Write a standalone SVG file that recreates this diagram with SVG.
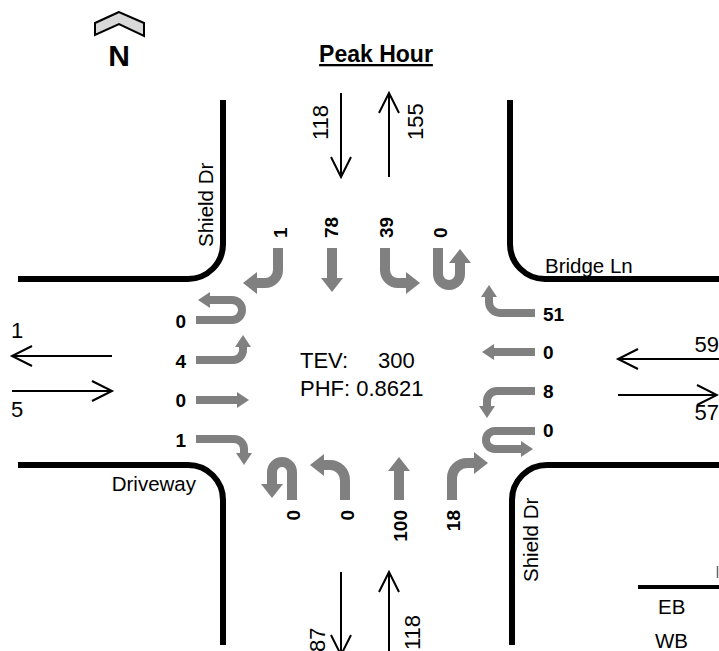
<svg xmlns="http://www.w3.org/2000/svg" width="719" height="651" viewBox="0 0 719 651">
<style>
text{font-family:"Liberation Sans",Arial,sans-serif;fill:#000}
.curb{fill:none;stroke:#000;stroke-width:6}
.flow{fill:none;stroke:#000;stroke-width:2}
.big{fill:none;stroke:#808080;stroke-width:10;marker-end:url(#hv)}
.small{fill:none;stroke:#808080;stroke-width:8;marker-end:url(#hh)}
.vol{font-size:19px;font-weight:bold}
.num{font-size:22px}
.street{font-size:20.5px}
</style>
<defs>
<marker id="hv" markerUnits="userSpaceOnUse" markerWidth="14" markerHeight="22" refX="0" refY="11" orient="auto" viewBox="0 0 14 22"><path d="M0,0 L14,11 L0,22 Z" fill="#808080"/></marker>
<marker id="hh" markerUnits="userSpaceOnUse" markerWidth="12" markerHeight="16" refX="0" refY="8" orient="auto" viewBox="0 0 12 16"><path d="M0,0 L12,8 L0,16 Z" fill="#808080"/></marker>
</defs>
<rect width="719" height="651" fill="#fff"/>

<g id="north">
<polygon points="119,12 95,23 95,35 119,24 144,36 144,23" fill="#d9d9d9" stroke="#000" stroke-width="2" stroke-linejoin="miter"/>
<text x="119" y="66" text-anchor="middle" style="font-size:30px;font-weight:bold">N</text>
</g>
<g id="title"><text x="376" y="62" text-anchor="middle" text-decoration="underline" style="font-size:23px;font-weight:bold">Peak Hour</text></g>

<g id="roads">
<path class="curb" d="M18,279 H188 A35,35 0 0 0 223,244 V100"/>
<path class="curb" d="M510,100 V244 A35,35 0 0 0 545,279 H719"/>
<path class="curb" d="M18,465 H188 A35,35 0 0 1 223,500 V645"/>
<path class="curb" d="M719,465 H547 A35,35 0 0 0 512,500 V645"/>
<path d="M638,587 H719" stroke="#000" stroke-width="4"/>
<path d="M717.5,566 V578" stroke="#666" stroke-width="1.5"/>
</g>

<g id="street-names">
<text class="street" transform="translate(213,247) rotate(-90)">Shield Dr</text>
<text class="street" x="545" y="273">Bridge Ln</text>
<text class="street" x="196" y="491" text-anchor="end">Driveway</text>
<text class="street" transform="translate(538,582) rotate(-90)">Shield Dr</text>
<text class="street" x="658" y="614">EB</text>
<text class="street" x="655" y="648">WB</text>
</g>

<g id="connectors">
<path class="flow" d="M341,93 V177 M331,157 L341,177 L351,157"/>
<path class="flow" d="M389,177 V93 M379,113 L389,93 L399,113"/>
<path class="flow" d="M341,572 V655 M331,635 L341,655 L351,635"/>
<path class="flow" d="M389,651 V572 M379,592 L389,572 L399,592"/>
<path class="flow" d="M112,356 H12 M32,346 L12,356 L32,366"/>
<path class="flow" d="M12,391 H112 M92,381 L112,391 L92,401"/>
<path class="flow" d="M719,359 H618 M638,349 L618,359 L638,369"/>
<path class="flow" d="M618,395 H717 M697,385 L717,395 L697,405"/>
<path class="big" d="M278,248 V270 A13,13 0 0 1 265,283 H257"/>
<path class="big" d="M332,248 V278"/>
<path class="big" d="M385,248 V270 A13,13 0 0 0 398,283 H406"/>
<path class="big" d="M438,248 V274 A11,11 0 0 0 460,274 V263"/>
<path class="big" d="M292,500 V472 A10,10 0 0 0 272,472 V484"/>
<path class="big" d="M345,500 V480 A15,15 0 0 0 330,465 H324"/>
<path class="big" d="M399,500 V471"/>
<path class="big" d="M452,500 V478 A15,15 0 0 1 467,463 H474"/>
<path class="small" d="M196,320 H232 A10,10 0 0 0 232,300 H210"/>
<path class="small" d="M196,360 H233 A10,10 0 0 0 243,350 V347"/>
<path class="small" d="M196,400 H237"/>
<path class="small" d="M196,439 H234 A10,10 0 0 1 244,449 V453"/>
<path class="small" d="M535,313 H500 A11,11 0 0 1 489,302 V297"/>
<path class="small" d="M535,352 H494"/>
<path class="small" d="M535,391 H497 A10,10 0 0 0 487,401 V406"/>
<path class="small" d="M535,431 H495 A9,9 0 0 0 495,449 H521"/>
</g>

<g id="flow-labels">
<text class="num" transform="translate(328,140) rotate(-90)">118</text>
<text class="num" transform="translate(423,140) rotate(-90)">155</text>
<text class="num" transform="translate(325,652) rotate(-90)">87</text>
<text class="num" transform="translate(420,650) rotate(-90)">118</text>
<text class="num" x="11" y="338">1</text>
<text class="num" x="11" y="417">5</text>
<text class="num" x="719" y="352" text-anchor="end">59</text>
<text class="num" x="719" y="420" text-anchor="end">57</text>
</g>

<g id="volumes">
<text class="vol" transform="translate(287,238) rotate(-90)">1</text>
<text class="vol" transform="translate(338,238) rotate(-90)">78</text>
<text class="vol" transform="translate(393,238) rotate(-90)">39</text>
<text class="vol" transform="translate(447,238) rotate(-90)">0</text>
<text class="vol" transform="translate(300,510) rotate(-90)" text-anchor="end">0</text>
<text class="vol" transform="translate(354,510) rotate(-90)" text-anchor="end">0</text>
<text class="vol" transform="translate(407,510) rotate(-90)" text-anchor="end">100</text>
<text class="vol" transform="translate(460,510) rotate(-90)" text-anchor="end">18</text>
<text class="vol" x="186" y="328" text-anchor="end">0</text>
<text class="vol" x="186" y="368" text-anchor="end">4</text>
<text class="vol" x="186" y="407" text-anchor="end">0</text>
<text class="vol" x="186" y="447" text-anchor="end">1</text>
<text class="vol" x="543" y="321">51</text>
<text class="vol" x="543" y="359">0</text>
<text class="vol" x="543" y="398">8</text>
<text class="vol" x="543" y="437">0</text>
</g>

<g id="totals">
<text x="300" y="368" style="font-size:22px">TEV:</text>
<text x="378" y="368" style="font-size:22px">300</text>
<text x="300" y="396" style="font-size:22px">PHF: 0.8621</text>
</g>
</svg>
